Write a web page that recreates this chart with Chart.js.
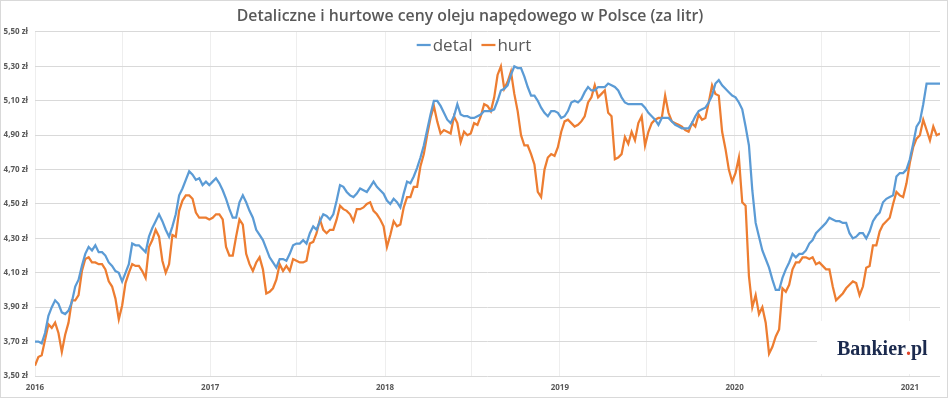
<!DOCTYPE html>
<html>
<head>
<meta charset="utf-8">
<script src="https://cdn.jsdelivr.net/npm/chart.js@4.4.1/dist/chart.umd.min.js"></script>
<style>
  html, body { margin: 0; padding: 0; background: #ffffff; }
  canvas { display: block; }
</style>
</head>
<body>
<canvas id="c" width="948" height="398"></canvas>
<script>
// ---- data (weekly, from first week of 2016) ----
const titleText = 'Detaliczne i hurtowe ceny oleju napędowego w Polsce (za litr)';
const seriesNames = ['detal', 'hurt'];
const firstWeek = Date.UTC(2016, 0, 1);
const yearTicks = [2016, 2017, 2018, 2019, 2020, 2021];

const detal = [
  3.70,3.70,3.69,3.75,3.85,3.90,3.94,3.92,3.87,3.86,
  3.88,3.93,4.02,4.06,4.14,4.21,4.25,4.23,4.26,4.22,
  4.22,4.20,4.16,4.14,4.11,4.10,4.05,4.10,4.15,4.27,
  4.26,4.26,4.24,4.22,4.31,4.36,4.40,4.44,4.40,4.35,
  4.31,4.37,4.44,4.55,4.59,4.64,4.69,4.67,4.64,4.65,
  4.61,4.63,4.61,4.63,4.65,4.62,4.58,4.53,4.47,4.42,
  4.42,4.51,4.55,4.51,4.46,4.42,4.35,4.32,4.29,4.24,
  4.19,4.16,4.13,4.18,4.18,4.17,4.21,4.26,4.27,4.27,
  4.29,4.27,4.33,4.37,4.35,4.40,4.44,4.43,4.41,4.44,
  4.52,4.61,4.60,4.57,4.55,4.54,4.56,4.59,4.58,4.57,
  4.60,4.63,4.60,4.58,4.56,4.52,4.50,4.53,4.51,4.48,
  4.56,4.63,4.62,4.66,4.71,4.77,4.84,4.93,5.02,5.10,
  5.10,5.07,5.03,4.99,4.97,5.01,5.08,5.02,5.01,5.01,
  5.00,5.00,5.01,5.02,5.04,5.04,5.04,5.05,5.10,5.16,
  5.17,5.19,5.25,5.30,5.29,5.29,5.24,5.18,5.13,5.13,
  5.10,5.06,5.03,5.01,5.04,5.04,5.03,5.00,5.01,5.04,
  5.09,5.10,5.09,5.11,5.15,5.18,5.16,5.16,5.18,5.18,
  5.18,5.20,5.19,5.18,5.16,5.12,5.09,5.08,5.08,5.08,
  5.08,5.08,5.06,5.03,5.01,4.99,4.96,5.00,5.00,5.00,
  4.98,4.96,4.95,4.94,4.94,4.94,4.97,5.01,5.04,5.05,
  5.06,5.09,5.13,5.20,5.22,5.19,5.17,5.15,5.13,5.12,
  5.09,5.05,4.95,4.84,4.58,4.39,4.31,4.23,4.18,4.13,
  4.06,4.00,4.00,4.07,4.12,4.16,4.21,4.19,4.21,4.21,
  4.23,4.27,4.29,4.33,4.35,4.37,4.39,4.42,4.41,4.40,
  4.40,4.39,4.39,4.33,4.30,4.31,4.33,4.33,4.30,4.34,
  4.40,4.43,4.45,4.51,4.53,4.54,4.55,4.66,4.68,4.68,
  4.70,4.76,4.85,4.95,4.98,5.08,5.20,5.20,5.20,5.20,
  5.20
];

const hurt = [
  3.56,3.61,3.62,3.71,3.80,3.78,3.81,3.75,3.64,3.74,
  3.81,3.94,3.94,3.97,4.11,4.18,4.19,4.16,4.16,4.15,
  4.15,4.12,4.05,4.02,3.95,3.83,3.91,4.04,4.10,4.15,
  4.14,4.14,4.11,4.07,4.25,4.29,4.35,4.31,4.17,4.10,
  4.15,4.32,4.31,4.46,4.52,4.55,4.55,4.53,4.45,4.42,
  4.42,4.42,4.41,4.42,4.44,4.44,4.41,4.25,4.20,4.20,
  4.31,4.41,4.38,4.21,4.15,4.11,4.16,4.19,4.12,3.98,
  3.99,4.01,4.06,4.15,4.11,4.14,4.11,4.18,4.17,4.16,
  4.16,4.17,4.27,4.28,4.33,4.41,4.35,4.33,4.35,4.35,
  4.41,4.49,4.47,4.46,4.44,4.40,4.47,4.47,4.48,4.50,
  4.51,4.46,4.44,4.41,4.37,4.25,4.32,4.40,4.37,4.38,
  4.48,4.54,4.54,4.60,4.60,4.72,4.79,4.90,5.00,5.07,
  4.98,4.91,4.93,4.92,4.91,5.01,4.97,4.86,4.92,4.90,
  4.91,4.97,4.96,5.01,5.08,5.07,5.04,5.12,5.25,5.30,
  5.17,5.21,5.27,5.14,5.04,4.90,4.84,4.84,4.79,4.73,
  4.57,4.54,4.70,4.77,4.79,4.78,4.83,4.92,4.98,4.99,
  4.97,4.95,4.96,4.98,5.01,5.09,5.12,5.19,5.12,5.14,
  5.16,5.03,5.01,4.76,4.77,4.79,4.89,4.85,4.92,4.87,
  4.97,5.01,4.84,4.92,4.97,4.99,5.00,5.00,5.13,5.03,
  4.98,4.97,4.96,4.95,4.93,4.92,4.97,4.95,5.02,4.99,
  5.00,5.09,5.19,5.14,5.13,4.92,4.82,4.70,4.63,4.68,
  4.77,4.51,4.49,4.08,3.90,3.97,3.86,3.90,3.81,3.63,
  3.67,3.73,3.77,4.01,3.99,4.03,4.12,4.16,4.16,4.19,
  4.19,4.18,4.19,4.15,4.16,4.14,4.12,4.12,4.02,3.94,
  3.96,3.98,4.01,4.03,4.05,4.04,3.97,4.02,4.13,4.14,
  4.26,4.26,4.34,4.38,4.40,4.42,4.50,4.57,4.55,4.54,
  4.62,4.74,4.83,4.88,4.90,4.99,4.93,4.87,4.95,4.90,
  4.91
];

// weekly category values (timestamps)
const DAY = 86400000;
const weeks = detal.map((_, i) => firstWeek + i * 7 * DAY);

// half-year gridline positions, labelled on each year start
const gridTicks = [];
yearTicks.forEach(y => {
  gridTicks.push(Date.UTC(y, 0, 1));
  gridTicks.push(Date.UTC(y, 6, 1));
});

const GREY = '#595959';
const COLORS = ['#5b9bd5', '#ed7d31'];

const decorPlugin = {
  id: 'decor',
  beforeDatasetsDraw(chart) {
    const ctx = chart.ctx;
    ctx.save();
    ctx.fillStyle = '#ffffff';
    ctx.fillRect(817, 321, 125, 53);
    ctx.restore();
  },
  afterDraw(chart) {
    const ctx = chart.ctx;
    ctx.save();
    // legend inside the plot, centred on the canvas
    ctx.font = '17px "Open Sans"';
    ctx.textBaseline = 'middle';
    const lineLen = 14, gapText = 2, gapItem = 9;
    const items = chart.data.datasets.map(d => ({label: d.label, color: d.borderColor, w: ctx.measureText(d.label).width}));
    let total = 0;
    items.forEach((it, k) => { total += lineLen + gapText + it.w + (k < items.length - 1 ? gapItem : 0); });
    let x = chart.width / 2 - total / 2;
    const y = 45;
    items.forEach(it => {
      ctx.strokeStyle = it.color;
      ctx.lineWidth = 2.25;
      ctx.beginPath();
      ctx.moveTo(x, y);
      ctx.lineTo(x + lineLen, y);
      ctx.stroke();
      x += lineLen + gapText;
      ctx.fillStyle = GREY;
      ctx.textAlign = 'left';
      ctx.fillText(it.label, x, y + 1);
      x += it.w + gapItem;
    });

    // Bankier.pl mark
    ctx.font = 'bold 20px "Liberation Serif"';
    ctx.textBaseline = 'alphabetic';
    let bx = 837;
    const by = 355;
    const parts = [['Bankier', '#1b2a4e'], ['.', '#e0452b'], ['pl', '#1b2a4e']];
    parts.forEach(p => {
      ctx.fillStyle = p[1];
      ctx.fillText(p[0], bx, by);
      bx += ctx.measureText(p[0]).width;
    });

    // outer frame
    ctx.strokeStyle = '#d9d9d9';
    ctx.lineWidth = 1;
    ctx.strokeRect(0.5, 0.5, chart.width - 1, chart.height - 1);
    ctx.restore();
  }
};

new Chart(document.getElementById('c'), {
  type: 'line',
  data: {
    labels: weeks,
    datasets: [
      { label: seriesNames[0], data: detal, borderColor: COLORS[0], backgroundColor: COLORS[0], borderWidth: 2.25, pointRadius: 0, tension: 0 },
      { label: seriesNames[1], data: hurt, borderColor: COLORS[1], backgroundColor: COLORS[1], borderWidth: 2.25, pointRadius: 0, tension: 0 }
    ]
  },
  options: {
    responsive: false,
    animation: false,
    devicePixelRatio: 1,
    layout: { padding: { left: 0, right: 8, top: 0, bottom: 0 } },
    plugins: {
      legend: { display: false },
      tooltip: { enabled: false },
      title: {
        display: true,
        text: titleText,
        color: GREY,
        font: { family: '"Open Sans"', size: 15.8, weight: '600', lineHeight: 1.2 },
        padding: { top: 7, bottom: 6 }
      }
    },
    scales: {
      x: {
        type: 'linear',
        min: weeks[0],
        max: weeks[weeks.length - 1],
        afterBuildTicks: (s) => {
          s.ticks = gridTicks.filter(v => v >= s.min && v <= s.max).map(v => ({ value: v }));
        },
        afterFit: (s) => { s.height = 22; },
        ticks: {
          autoSkip: false,
          maxRotation: 0,
          padding: 7,
          color: GREY,
          font: { family: '"Open Sans"', size: 8, weight: 'bold' },
          callback: (v) => {
            const d = new Date(v);
            return d.getUTCMonth() === 0 ? String(d.getUTCFullYear()) : '';
          }
        },
        grid: { color: '#eeeeee', lineWidth: 1, drawTicks: false },
        border: { display: false }
      },
      y: {
        min: 3.5,
        max: 5.5,
        afterFit: (s) => { s.width = 35; },
        ticks: {
          stepSize: 0.2,
          padding: 7,
          color: GREY,
          font: { family: '"Open Sans"', size: 8, weight: 'bold' },
          callback: (v) => v.toFixed(2).replace('.', ',') + ' zł'
        },
        grid: { color: '#d9d9d9', lineWidth: 1, drawTicks: false },
        border: { display: false }
      }
    }
  },
  plugins: [decorPlugin]
});
</script>
</body>
</html>
